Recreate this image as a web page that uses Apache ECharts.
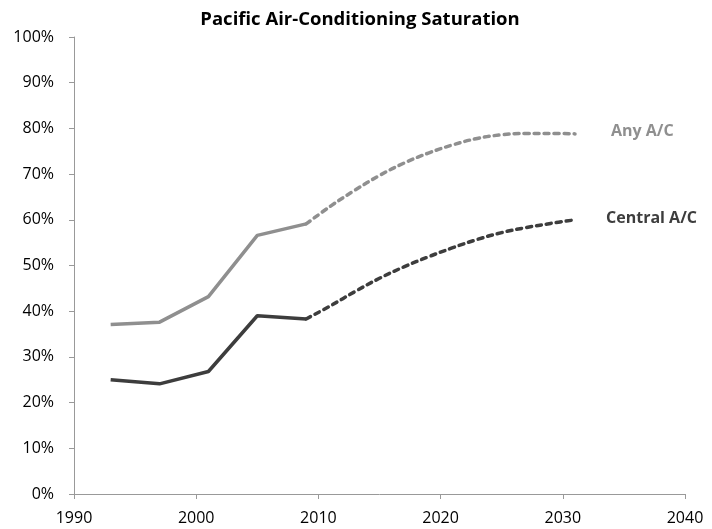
<!DOCTYPE html>
<html><head><meta charset="utf-8">
<script src="https://cdn.jsdelivr.net/npm/echarts@6/dist/echarts.min.js"></script>
<style>html,body{margin:0;padding:0;background:#fff}#c{width:712px;height:529px}</style>
</head><body><div id="c"></div>
<script>
const histYears = [1993, 1997, 2001, 2005, 2009];
const anyHist = [0.371, 0.376, 0.432, 0.566, 0.591];
const centralHist = [0.250, 0.241, 0.268, 0.390, 0.383];
const fcYears = [2009, 2011, 2013, 2015, 2017, 2019, 2021, 2023, 2025, 2027, 2029, 2031];
const anyFc = [0.591, 0.630, 0.665, 0.697, 0.724, 0.746, 0.764, 0.778, 0.786, 0.789, 0.789, 0.788];
const centralFc = [0.383, 0.412, 0.443, 0.472, 0.497, 0.519, 0.539, 0.557, 0.572, 0.583, 0.592, 0.600];
const xTicks = [1990, 2000, 2010, 2020, 2030, 2040];

const pair = (xs, ys) => xs.map((x, i) => [x, ys[i]]);
const anyColor = '#8f8f8f', centralColor = '#3d3d3d';
const font = '"Open Sans", "Liberation Sans", sans-serif';

const chart = echarts.init(document.getElementById('c'), null, {renderer: 'canvas'});
chart.setOption({
  animation: false,
  backgroundColor: '#fff',
  title: {
    text: 'Pacific Air-Conditioning Saturation',
    left: 355, textAlign: 'center', top: 5,
    textStyle: {fontFamily: font, fontWeight: 'bold', fontSize: 18.5, color: '#000'}
  },
  grid: {left: 74, right: 27, top: 37, bottom: 35, containLabel: false},
  xAxis: {
    type: 'value', min: xTicks[0], max: xTicks[xTicks.length - 1], interval: 10,
    axisLine: {show: true, lineStyle: {color: '#999', width: 1}},
    axisTick: {show: true, length: 5, lineStyle: {color: '#999'}},
    splitLine: {show: false},
    axisLabel: {fontFamily: font, fontSize: 16, color: '#000', margin: 16, formatter: v => String(v)}
  },
  yAxis: {
    type: 'value', min: 0, max: 1, interval: 0.1,
    axisLine: {show: true, lineStyle: {color: '#999', width: 1}},
    axisTick: {show: true, length: 5, lineStyle: {color: '#999'}},
    splitLine: {show: false},
    axisLabel: {fontFamily: font, fontSize: 16, color: '#000', margin: 20,
      formatter: v => Math.round(v * 100) + '%'}
  },
  series: [
    {type: 'line', data: pair(histYears, anyHist), showSymbol: false,
     lineStyle: {color: anyColor, width: 3.5}},
    {type: 'line', data: pair(histYears, centralHist), showSymbol: false,
     lineStyle: {color: centralColor, width: 3.5}},
    {type: 'line', data: pair(fcYears, anyFc), showSymbol: false, smooth: 0.4,
     lineStyle: {color: anyColor, width: 3.5, type: [5, 5], cap: 'round'},
     endLabel: {show: true, formatter: 'Any A/C', distance: 36, offset: [0, -2],
       fontFamily: font, fontWeight: 'bold', fontSize: 16, color: anyColor}},
    {type: 'line', data: pair(fcYears, centralFc), showSymbol: false, smooth: 0.4,
     lineStyle: {color: centralColor, width: 3.5, type: [5, 5], cap: 'round'},
     endLabel: {show: true, formatter: 'Central A/C', distance: 31, offset: [0, -1],
       fontFamily: font, fontWeight: 'bold', fontSize: 16, color: centralColor}}
  ]
});
</script></body></html>
